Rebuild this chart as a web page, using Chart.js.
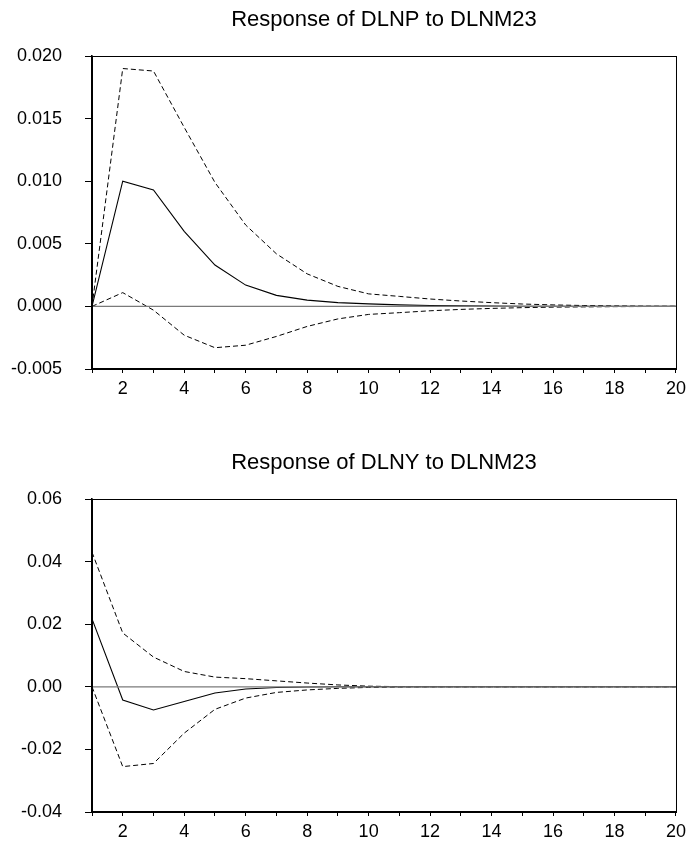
<!DOCTYPE html>
<html>
<head>
<meta charset="utf-8">
<script src="https://cdn.jsdelivr.net/npm/chart.js@4"></script>
<style>
  html, body { margin: 0; padding: 0; background: #fff; overflow: hidden; }
  .panel { position: absolute; left: 0; }
</style>
</head>
<body>
<canvas id="priceChart" class="panel" width="691" height="420" style="top:0px"></canvas>
<canvas id="outputChart" class="panel" width="691" height="420" style="top:443px"></canvas>
<script>
// horizon (periods after the shock)
const periods = [1, 2, 3, 4, 5, 6, 7, 8, 9, 10, 11, 12, 13, 14, 15, 16, 17, 18, 19, 20];

// response of DLNP to DLNM23, with +/- 2 S.E. bands
const priceResp  = [0, 0.0100, 0.0093, 0.0060, 0.0033, 0.0017, 0.00088, 0.0005, 0.0003, 0.0002,
                    0.00012, 0.00007, 0.00004, 0.00002, 0.00001, 0.000006, 0.000003, 0.000002, 0.000001, 0];
const priceUpper = [0, 0.0190, 0.0188, 0.0143, 0.0099, 0.0065, 0.0042, 0.0026, 0.0016, 0.0010,
                    0.0008, 0.00059, 0.00043, 0.0003, 0.00019, 0.00012, 0.00007, 0.00004, 0.00002, 0.00001];
const priceLower = [0, 0.0011, -0.0003, -0.0023, -0.0033, -0.0031, -0.0024, -0.0016, -0.0010, -0.00064,
                    -0.0005, -0.00035, -0.00024, -0.00016, -0.0001, -0.00006, -0.00004, -0.00002, -0.00001, 0];

// response of DLNY to DLNM23, with +/- 2 S.E. bands
const outputResp  = [0.0217, -0.0042, -0.0074, -0.0047, -0.0020, -0.0007, -0.0002, -0.00005, 0, 0,
                     0, 0, 0, 0, 0, 0, 0, 0, 0, 0];
const outputUpper = [0.0430, 0.0172, 0.0095, 0.0049, 0.0031, 0.0026, 0.0019, 0.0012, 0.0006, 0.0002,
                     0.00005, 0, 0, 0, 0, 0, 0, 0, 0, 0];
const outputLower = [0, -0.0255, -0.0245, -0.0148, -0.0072, -0.0036, -0.0018, -0.0010, -0.0005, -0.0002,
                     -0.00008, 0, 0, 0, 0, 0, 0, 0, 0, 0];

const priceTicks  = { min: -0.005, max: 0.020, step: 0.005, digits: 3 };
const outputTicks = { min: -0.04, max: 0.06, step: 0.02, digits: 2 };

const FONT = "'Liberation Sans', Arial, sans-serif";
const TITLE_SIZE = 22;
const PLOT_TOP = 56, PLOT_BOTTOM = 369, PLOT_LEFT = 92, PLOT_RIGHT = 682;

// frame round the plot and the zero line
const framePlugin = {
    id: "frame",
    afterDatasetsDraw(chart) {
        const { ctx, chartArea: a, scales } = chart;
        const y0 = scales.y.getPixelForValue(0);
        ctx.save();
        ctx.strokeStyle = "#7a7a7a";
        ctx.lineWidth = 1.2;
        ctx.beginPath();
        ctx.moveTo(a.left, y0);
        ctx.lineTo(a.right, y0);
        ctx.stroke();
        ctx.strokeStyle = "#000";
        ctx.lineWidth = 1;
        ctx.strokeRect(a.left + 0.5, a.top + 0.5, a.right - a.left, a.bottom - a.top);
        ctx.restore();
    }
};

function makeChart(id, title, resp, upper, lower, yt) {
    const band = (data) => ({
        data: data,
        borderColor: "#000",
        borderWidth: 1,
        borderDash: [5, 3],
        pointRadius: 0,
        tension: 0
    });
    const ctx = document.getElementById(id).getContext("2d");
    return new Chart(ctx, {
        type: "line",
        data: {
            labels: periods,
            datasets: [
                { data: resp, borderColor: "#000", borderWidth: 1.1, pointRadius: 0, tension: 0 },
                band(upper),
                band(lower)
            ]
        },
        options: {
            responsive: false,
            animation: false,
            devicePixelRatio: 1,
            layout: { padding: { left: 0, right: 691 - PLOT_RIGHT, top: 0, bottom: 0 } },
            plugins: {
                legend: { display: false },
                tooltip: { enabled: false },
                title: {
                    display: true,
                    fullSize: false,
                    text: title,
                    color: "#000",
                    font: { family: FONT, size: TITLE_SIZE, weight: "normal" },
                    padding: { top: 7, bottom: PLOT_TOP - 7 - TITLE_SIZE * 1.2 }
                }
            },
            scales: {
                x: {
                    type: "category",
                    offset: false,
                    grid: { display: true, drawOnChartArea: false, drawTicks: true, tickLength: 4, color: "#000" },
                    border: { display: true, color: "#000", width: 1.5 },
                    ticks: {
                        autoSkip: false,
                        maxRotation: 0,
                        padding: 5,
                        color: "#000",
                        font: { family: FONT, size: 18 },
                        callback: (v, i) => (periods[i] % 2 === 0 ? String(periods[i]) : "")
                    },
                    afterFit(scale) { scale.height = 420 - PLOT_BOTTOM; }
                },
                y: {
                    min: yt.min,
                    max: yt.max,
                    grid: { display: true, drawOnChartArea: false, drawTicks: true, tickLength: 7, color: "#000" },
                    border: { display: true, color: "#000", width: 1.6 },
                    ticks: {
                        stepSize: yt.step,
                        padding: 23,
                        color: "#000",
                        font: { family: FONT, size: 18 },
                        callback: (v) => Number(v).toFixed(yt.digits)
                    },
                    afterFit(scale) { scale.width = PLOT_LEFT; }
                }
            }
        },
        plugins: [framePlugin]
    });
}

makeChart("priceChart", "Response of DLNP to DLNM23", priceResp, priceUpper, priceLower, priceTicks);
makeChart("outputChart", "Response of DLNY to DLNM23", outputResp, outputUpper, outputLower, outputTicks);
</script>
</body>
</html>
